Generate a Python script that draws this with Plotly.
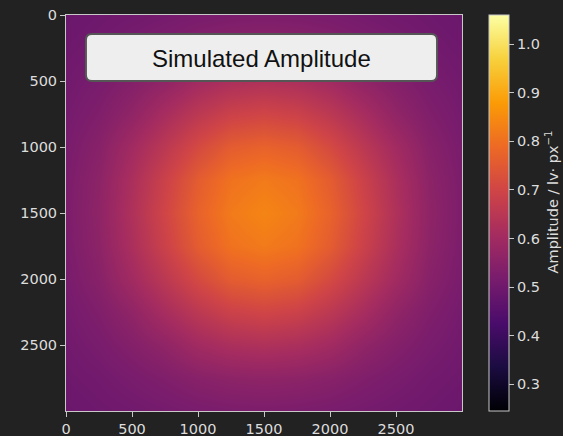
import plotly.graph_objects as go

# Sample positions (pixels) of the coarse amplitude grid
x_pos = [0, 250, 500, 750, 1000, 1250, 1500, 1750, 2000, 2250, 2500, 2750, 3000]
y_pos = [0, 250, 500, 750, 1000, 1250, 1500, 1750, 2000, 2250, 2500, 2750, 3000]

# Amplitude values (rows = y from top to bottom)
row_00 = [0.490, 0.497, 0.503, 0.510, 0.518, 0.523, 0.525, 0.523, 0.518, 0.510, 0.503, 0.497, 0.490]
row_01 = [0.497, 0.505, 0.518, 0.532, 0.548, 0.558, 0.562, 0.558, 0.548, 0.532, 0.518, 0.505, 0.497]
row_02 = [0.503, 0.518, 0.540, 0.565, 0.600, 0.620, 0.628, 0.620, 0.600, 0.565, 0.540, 0.518, 0.503]
row_03 = [0.510, 0.532, 0.565, 0.612, 0.655, 0.688, 0.700, 0.688, 0.655, 0.612, 0.565, 0.532, 0.510]
row_04 = [0.518, 0.548, 0.600, 0.655, 0.712, 0.758, 0.772, 0.758, 0.712, 0.655, 0.600, 0.548, 0.518]
row_05 = [0.523, 0.558, 0.620, 0.688, 0.758, 0.805, 0.820, 0.805, 0.758, 0.688, 0.620, 0.558, 0.523]
row_06 = [0.525, 0.562, 0.628, 0.700, 0.772, 0.820, 0.838, 0.820, 0.772, 0.700, 0.628, 0.562, 0.525]
row_07 = [0.523, 0.558, 0.620, 0.688, 0.758, 0.805, 0.820, 0.805, 0.758, 0.688, 0.620, 0.558, 0.523]
row_08 = [0.518, 0.548, 0.600, 0.655, 0.712, 0.758, 0.772, 0.758, 0.712, 0.655, 0.600, 0.548, 0.518]
row_09 = [0.510, 0.532, 0.565, 0.612, 0.655, 0.688, 0.700, 0.688, 0.655, 0.612, 0.565, 0.532, 0.510]
row_10 = [0.503, 0.518, 0.540, 0.565, 0.600, 0.620, 0.628, 0.620, 0.600, 0.565, 0.540, 0.518, 0.503]
row_11 = [0.497, 0.505, 0.518, 0.532, 0.548, 0.558, 0.562, 0.558, 0.548, 0.532, 0.518, 0.505, 0.497]
row_12 = [0.490, 0.497, 0.503, 0.510, 0.518, 0.523, 0.525, 0.523, 0.518, 0.510, 0.503, 0.497, 0.490]

z_rows = [row_00, row_01, row_02, row_03, row_04, row_05, row_06,
          row_07, row_08, row_09, row_10, row_11, row_12]

x_ticks = [0, 500, 1000, 1500, 2000, 2500]
y_ticks = [0, 500, 1000, 1500, 2000, 2500]
cbar_ticks = [0.3, 0.4, 0.5, 0.6, 0.7, 0.8, 0.9, 1.0]
z_min, z_max = 0.245, 1.06

title_text = "Simulated Amplitude"
cbar_title = "Amplitude / lv· px<sup>−1</sup>"

BG = "#222222"
FG = "#dddddd"
LINE = "#c8c8c8"
tick_font = dict(family="DejaVu Sans", size=14.5, color=FG)

fig = go.Figure()
fig.add_trace(go.Heatmap(
    x=x_pos, y=y_pos, z=z_rows,
    colorscale="Inferno", zmin=z_min, zmax=z_max, zsmooth="best",
    hoverinfo="skip",
    colorbar=dict(
        x=1.068, xanchor="left", xpad=0, y=0.5, yanchor="middle", ypad=0,
        len=1, lenmode="fraction", thickness=20,
        outlinecolor=LINE, outlinewidth=1,
        tickvals=cbar_ticks, ticktext=[f"{v:.1f}" for v in cbar_ticks],
        ticks="outside", ticklen=5, tickcolor=LINE, tickwidth=1,
        tickfont=tick_font,
    ),
))

# colour bar title (placed as a rotated annotation to match the reference position)
fig.add_annotation(x=1.226, y=0.528, xref="paper", yref="paper",
                   xanchor="center", yanchor="middle",
                   text=cbar_title, textangle=-90, showarrow=False,
                   font=tick_font)

# rounded label box
bx0, bx1, by0, by1, r = 151, 2811, 144, 500, 45
path = (f"M {bx0+r},{by0} L {bx1-r},{by0} Q {bx1},{by0} {bx1},{by0+r} "
        f"L {bx1},{by1-r} Q {bx1},{by1} {bx1-r},{by1} "
        f"L {bx0+r},{by1} Q {bx0},{by1} {bx0},{by1-r} "
        f"L {bx0},{by0+r} Q {bx0},{by0} {bx0+r},{by0} Z")
fig.add_shape(type="path", path=path, xref="x", yref="y",
              fillcolor="#eeeeee", line=dict(color="#555555", width=2))
fig.add_annotation(x=(bx0 + bx1) / 2, y=(by0 + by1) / 2 + 5, xref="x", yref="y",
                   text=title_text, showarrow=False,
                   font=dict(family="Liberation Sans, Arial", size=24, color="#111111"))

axis_common = dict(
    showgrid=False, zeroline=False, showline=True, mirror=True,
    linecolor=LINE, linewidth=1, ticks="outside", ticklen=5,
    tickcolor=LINE, tickwidth=1, tickfont=tick_font,
)
fig.update_xaxes(range=[0, 3000], tickvals=x_ticks,
                 ticktext=[str(v) for v in x_ticks], **axis_common)
fig.update_yaxes(range=[3000, 0], tickvals=y_ticks,
                 ticktext=[str(v) for v in y_ticks], **axis_common)

fig.update_layout(
    width=563, height=436,
    margin=dict(l=66, r=101, t=15, b=25, autoexpand=False),
    paper_bgcolor=BG, plot_bgcolor=BG,
    showlegend=False,
)

fig.write_html("out.html")
